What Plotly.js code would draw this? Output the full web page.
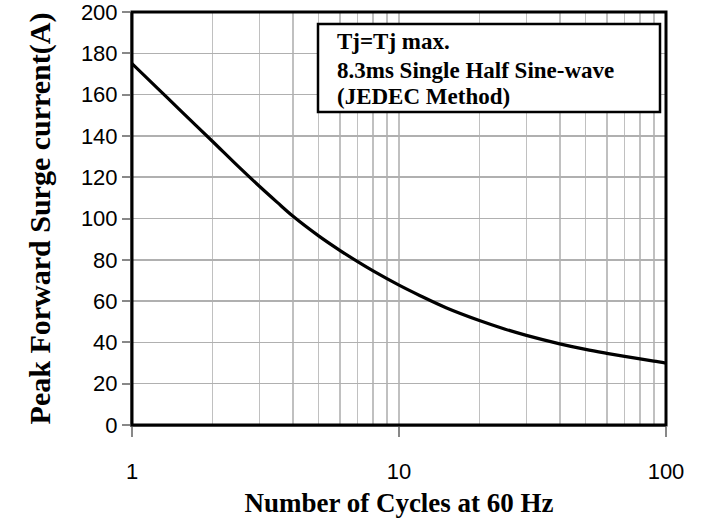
<!DOCTYPE html>
<html>
<head>
<meta charset="utf-8">
<script src="https://cdn.plot.ly/plotly-3.0.1.min.js"></script>
<style>html,body{margin:0;padding:0;background:#fff;}#chart{width:705px;height:523px;}</style>
</head>
<body>
<div id="chart"></div>
<script>
// Number of cycles at 60 Hz
var cycles = [1, 1.25, 1.5, 2, 2.5, 3, 3.5, 4, 5, 6, 7, 8, 10, 12, 15, 20, 25, 30, 40, 50, 60, 70, 80, 90, 100];
// Peak forward surge current (A)
var surgeCurrent = [175, 162.9, 153, 137.4, 125.2, 115.6, 107.8, 101.2, 91.6, 84.6, 79.1, 74.6, 67.7, 62.6, 56.8, 50.6, 46.4, 43.4, 39.3, 36.6, 34.7, 33.2, 32.0, 30.9, 30.0];
var xMajorTicks = [1, 10, 100];
var xMajorLabels = ["1", "10", "100"];
var xMinorTicks = [2, 3, 4, 5, 6, 7, 8, 9, 20, 30, 40, 50, 60, 70, 80, 90];
var yTicks = [0, 20, 40, 60, 80, 100, 120, 140, 160, 180, 200];
var noteLines = ["Tj=Tj max.", "8.3ms Single Half Sine-wave", "(JEDEC Method)"];

var serif = "Liberation Serif, Times New Roman, serif";
var sans = "Liberation Sans, Arial, sans-serif";

var trace = {
  x: cycles, y: surgeCurrent, type: "scatter", mode: "lines",
  line: {color: "#000", width: 3.2, shape: "spline", smoothing: 1},
  hoverinfo: "skip", showlegend: false
};

var annotations = noteLines.map(function (t, i) {
  return {
    text: "<b>" + t + "</b>", xref: "paper", yref: "paper",
    x: (335 - 132) / 534, y: (425 - [42, 70, 96][i]) / 413,
    xanchor: "left", yanchor: "middle", showarrow: false,
    font: {family: serif, size: 23, color: "#000"}
  };
});

var layout = {
  width: 705, height: 523,
  margin: {l: 132, r: 39, t: 12, b: 98},
  paper_bgcolor: "#fff", plot_bgcolor: "#fff",
  showlegend: false,
  xaxis: {
    type: "log", range: [0, 2],
    tickmode: "array", tickvals: xMajorTicks, ticktext: xMajorLabels,
    ticks: "outside", ticklen: 10, tickwidth: 2, tickcolor: "#888",
    ticklabelstandoff: 16, ticklabeloverflow: "allow",
    showgrid: true, gridcolor: "#c0c0c0", gridwidth: 1.5,
    minor: {tickmode: "array", tickvals: xMinorTicks, showgrid: true, gridcolor: "#c0c0c0", gridwidth: 1.5, ticks: ""},
    showline: true, linecolor: "#888", linewidth: 2,
    zeroline: false,
    tickfont: {family: sans, size: 22, color: "#000"},
    title: {text: "<b>Number of Cycles at 60 Hz</b>", font: {family: serif, size: 27, color: "#000"}, standoff: 10},
    automargin: false, fixedrange: true
  },
  yaxis: {
    range: [0, 200], tickmode: "array", tickvals: yTicks,
    ticks: "outside", ticklen: 8, tickwidth: 2, tickcolor: "#888",
    ticklabeloverflow: "allow",
    showgrid: true, gridcolor: "#b0b0b0", gridwidth: 1.5,
    showline: true, linecolor: "#888", linewidth: 2,
    zeroline: false,
    tickfont: {family: sans, size: 22, color: "#000"},
    title: {text: "<b>Peak Forward Surge current(A)</b>", font: {family: serif, size: 30, color: "#000"}, standoff: 21},
    automargin: false, fixedrange: true
  },
  shapes: [
    {type: "rect", xref: "paper", yref: "paper", x0: 0, x1: 1, y0: 0, y1: 1,
     line: {color: "#000", width: 3}, layer: "above"},
    {type: "rect", xref: "paper", yref: "paper",
     x0: (318 - 132) / 534, x1: (660 - 132) / 534,
     y0: (425 - 112) / 413, y1: (425 - 24) / 413,
     line: {color: "#000", width: 2.5}, fillcolor: "#fff", layer: "above"}
  ],
  annotations: annotations
};

Plotly.newPlot("chart", [trace], layout, {displayModeBar: false, staticPlot: true});
</script>
</body>
</html>
